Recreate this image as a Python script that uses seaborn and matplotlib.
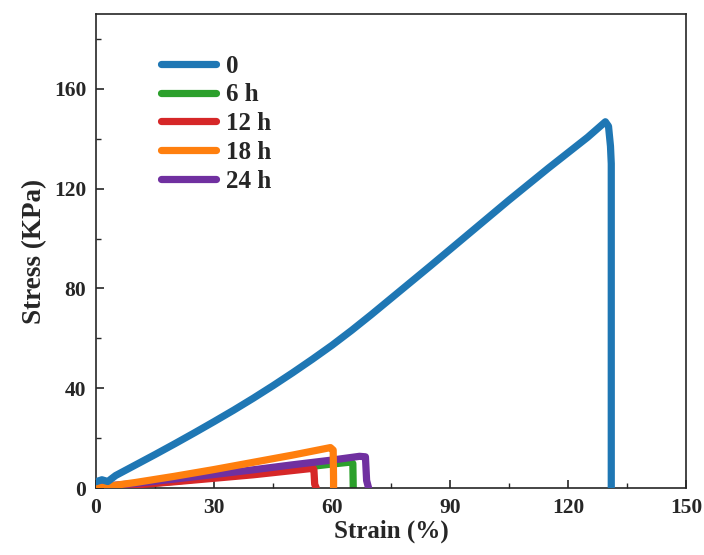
import matplotlib
matplotlib.use("Agg")
import matplotlib.pyplot as plt
import seaborn as sns
import pandas as pd
from matplotlib.ticker import MultipleLocator

# ---- data ----
strain_0 = [0, 1.5, 3, 5, 10, 15, 20, 25, 30, 35, 40, 45, 50, 55, 60, 65, 70, 75,
            80, 85, 90, 95, 100, 105, 110, 115, 120, 125, 129.5, 130.3, 130.8, 131.0, 131.0]
stress_0 = [2.5, 3.3, 2.6, 5.0, 9.2, 13.4, 17.7, 22.1, 26.6, 31.2, 36.0, 41.0, 46.2, 51.6,
            57.2, 63.2, 69.5, 76.0, 82.5, 89.0, 95.6, 102.2, 108.8, 115.4, 121.8, 128.2,
            134.4, 140.6, 146.8, 145.0, 137.0, 130.0, 0]

strain_6 = [0, 10, 20, 30, 40, 50, 60, 64.9, 65.3, 65.4]
stress_6 = [0, 1.2, 2.7, 4.3, 6.0, 7.8, 9.6, 10.4, 9.8, 0]

strain_12 = [0, 10, 20, 30, 40, 50, 55.2, 55.4, 55.6, 56.0]
stress_12 = [0, 1.2, 2.5, 3.9, 5.3, 7.0, 7.9, 7.4, 1.5, 0]

strain_18 = [0, 10, 20, 30, 40, 50, 59.6, 60.3, 60.4, 60.4]
stress_18 = [0, 2.2, 4.7, 7.4, 10.3, 13.2, 16.2, 15.2, 3, 0]

strain_24 = [0, 10, 20, 30, 40, 50, 60, 67, 68.5, 68.8, 69.3]
stress_24 = [0.5, 1.8, 3.6, 5.4, 7.3, 9.3, 11.2, 12.7, 12.5, 3, 0]

labels = ["0", "6 h", "12 h", "18 h", "24 h"]
colors = ["#1f77b4", "#2ca02c", "#d62728", "#ff7f0e", "#7030a0"]
x_ticks = [0, 30, 60, 90, 120, 150]
y_ticks = [0, 40, 80, 120, 160]

series = {
    "0": (strain_0, stress_0),
    "6 h": (strain_6, stress_6),
    "12 h": (strain_12, stress_12),
    "18 h": (strain_18, stress_18),
    "24 h": (strain_24, stress_24),
}

sns.set_style("ticks")
plt.rcParams["font.family"] = ["Liberation Serif", "DejaVu Serif"]
plt.rcParams["font.weight"] = "bold"
plt.rcParams["axes.labelweight"] = "bold"

fig = plt.figure(figsize=(7.04, 5.55), dpi=100)
ax = fig.add_axes([96 / 704, 1 - 488 / 555, 590 / 704, 474 / 555])

draw_order = ["6 h", "12 h", "24 h", "18 h", "0"]
zorders = {"6 h": 2, "12 h": 3, "24 h": 4, "18 h": 5, "0": 6}
handles = {}
for lab in draw_order:
    xs, ys = series[lab]
    df = pd.DataFrame({"Strain": xs, "Stress": ys})
    col = colors[labels.index(lab)]
    sns.lineplot(data=df, x="Strain", y="Stress", sort=False, estimator=None,
                 color=col, linewidth=5.2, ax=ax, zorder=zorders[lab],
                 solid_capstyle="round", solid_joinstyle="round", label=lab)
    handles[lab] = ax.lines[-1]

ax.set_xlim(0, 150)
ax.set_ylim(0, 190)
ax.set_xticks(x_ticks)
ax.set_yticks(y_ticks)
ax.xaxis.set_minor_locator(MultipleLocator(15))
ax.yaxis.set_minor_locator(MultipleLocator(20))
ax.tick_params(which="major", direction="in", length=6, width=1.2, labelsize=15.5,
               top=False, right=False, pad=7)
ax.tick_params(which="minor", direction="in", length=3.5, width=1.0, top=False, right=False)
for lbl in ax.get_xticklabels() + ax.get_yticklabels():
    lbl.set_fontweight("bold")
for sp in ax.spines.values():
    sp.set_linewidth(1.2)
    sp.set_visible(True)

ax.set_xlabel("Strain (%)", fontsize=18, fontweight="bold", labelpad=1)
ax.set_ylabel("Stress (KPa)", fontsize=19.5, fontweight="bold", labelpad=5)

leg = ax.legend([handles[l] for l in labels], labels, loc="upper left",
                bbox_to_anchor=(0.072, 0.962), frameon=False, handlelength=2.2,
                handletextpad=0.42, labelspacing=0.23,
                prop={"family": "Liberation Serif", "weight": "bold", "size": 18})
for h in leg.get_lines():
    h.set_linewidth(5.2)
    h.set_solid_capstyle("round")

fig.savefig("out.png", dpi=100)
